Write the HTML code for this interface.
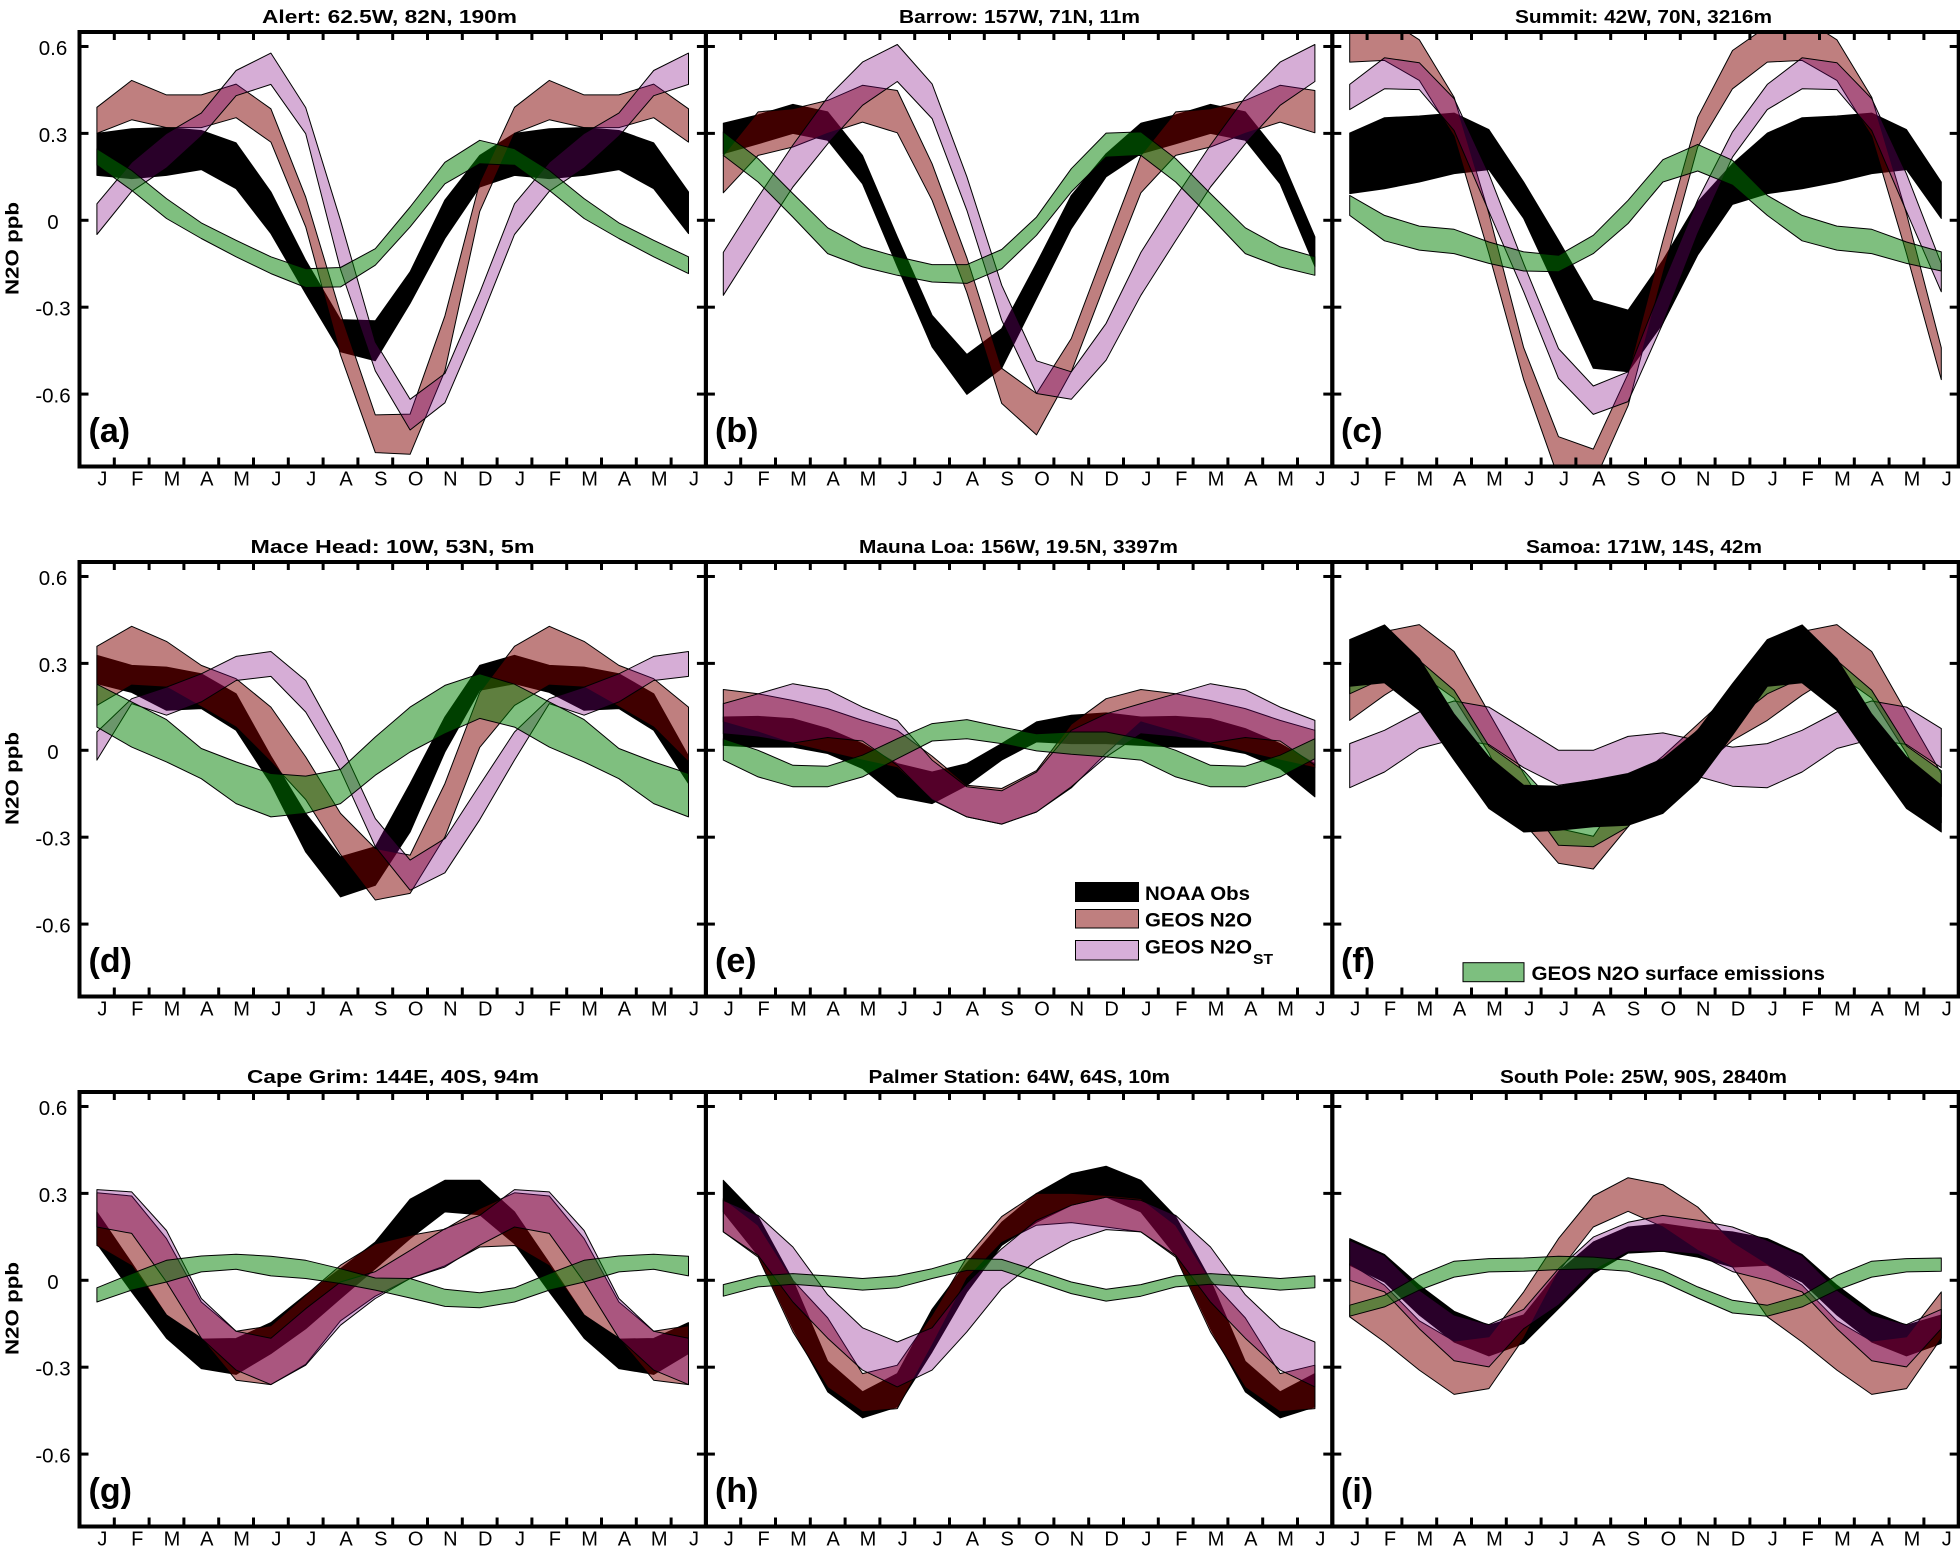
<!DOCTYPE html>
<html lang="en">
<head>
<meta charset="utf-8">
<title>N2O seasonal cycle at nine stations</title>
<style>
  html, body { margin: 0; padding: 0; background: #fff; }
  svg { display: block; font-family: "Liberation Sans", sans-serif; }
  .title { font-size: 18.5px; font-weight: bold; }
  .ylab { font-size: 18.5px; font-weight: bold; }
  .plab { font-size: 34px; font-weight: bold; }
  .leg { font-size: 19px; font-weight: bold; }
  .tick { font-size: 20.5px; text-anchor: middle; }
  .mon { font-size: 20px; text-anchor: middle; }
</style>
</head>
<body>
<svg id="chart" xmlns="http://www.w3.org/2000/svg" width="1960" height="1552" viewBox="0 0 1960 1552">
  <rect x="0" y="0" width="1960" height="1552" fill="#fff"/>
  <g id="panels"></g>

  <g>
    <text class="title" x="262" y="23" textLength="255" lengthAdjust="spacingAndGlyphs">Alert: 62.5W, 82N, 190m</text>
    <text class="title" x="899" y="23" textLength="241" lengthAdjust="spacingAndGlyphs">Barrow: 157W, 71N, 11m</text>
    <text class="title" x="1515" y="23" textLength="257" lengthAdjust="spacingAndGlyphs">Summit: 42W, 70N, 3216m</text>
    <text class="title" x="250.5" y="553" textLength="284" lengthAdjust="spacingAndGlyphs">Mace Head: 10W, 53N, 5m</text>
    <text class="title" x="859" y="553" textLength="319" lengthAdjust="spacingAndGlyphs">Mauna Loa: 156W, 19.5N, 3397m</text>
    <text class="title" x="1526" y="553" textLength="236" lengthAdjust="spacingAndGlyphs">Samoa: 171W, 14S, 42m</text>
    <text class="title" x="247" y="1083" textLength="292" lengthAdjust="spacingAndGlyphs">Cape Grim: 144E, 40S, 94m</text>
    <text class="title" x="868.5" y="1083" textLength="301.5" lengthAdjust="spacingAndGlyphs">Palmer Station: 64W, 64S, 10m</text>
    <text class="title" x="1500" y="1083" textLength="287" lengthAdjust="spacingAndGlyphs">South Pole: 25W, 90S, 2840m</text>
  </g>

  <g>
    <text class="ylab" transform="translate(18.5,295) rotate(-90)" textLength="93" lengthAdjust="spacingAndGlyphs">N2O ppb</text>
    <text class="ylab" transform="translate(18.5,825) rotate(-90)" textLength="93" lengthAdjust="spacingAndGlyphs">N2O ppb</text>
    <text class="ylab" transform="translate(18.5,1355) rotate(-90)" textLength="93" lengthAdjust="spacingAndGlyphs">N2O ppb</text>
  </g>

  <g>
    <text class="plab" x="88.5" y="442">(a)</text>
    <text class="plab" x="715" y="442">(b)</text>
    <text class="plab" x="1341" y="442">(c)</text>
    <text class="plab" x="88.5" y="972">(d)</text>
    <text class="plab" x="715" y="972">(e)</text>
    <text class="plab" x="1341" y="972">(f)</text>
    <text class="plab" x="88.5" y="1502">(g)</text>
    <text class="plab" x="715" y="1502">(h)</text>
    <text class="plab" x="1341" y="1502">(i)</text>
  </g>

  <g>
    <rect x="1075.5" y="882.5" width="63" height="19" fill="#000" stroke="#000"/>
    <text class="leg" x="1145" y="900" textLength="105" lengthAdjust="spacingAndGlyphs">NOAA Obs</text>
    <rect x="1075.5" y="909.5" width="63" height="18.5" fill="rgb(191,127,127)" stroke="#000"/>
    <text class="leg" x="1145" y="926.7" textLength="107" lengthAdjust="spacingAndGlyphs">GEOS N2O</text>
    <rect x="1075.5" y="940.5" width="63" height="19.5" fill="rgb(215,175,217)" stroke="#000"/>
    <text class="leg" x="1145" y="953.3" textLength="107" lengthAdjust="spacingAndGlyphs">GEOS N2O</text>
    <text x="1253" y="964" font-size="14.5" font-weight="bold" textLength="20" lengthAdjust="spacingAndGlyphs">ST</text>
    <rect x="1463" y="962.7" width="61" height="19" fill="rgb(125,191,127)" stroke="#000"/>
    <text class="leg" x="1531.5" y="980" textLength="293.5" lengthAdjust="spacingAndGlyphs">GEOS N2O surface emissions</text>
  </g>
</svg>

<script>
// Axis labels
const monthLabels = ['J','F','M','A','M','J','J','A','S','O','N','D','J','F','M','A','M','J'];
const yTickValues = [0.6, 0.3, 0, -0.3, -0.6];
const yTickLabels = ['0.6', '0.3', '0', '-0.3', '-0.6'];

// Values in ppb, Jan..Dec; the x axis runs 18 months, so Jan..Jun repeat.
// (a) Alert
const alertObsHi = [.30,.316,.32,.31,.267,.098,-.138,-.343,-.347,-.178,.07,.224];
const alertObsLo = [.155,.144,.155,.175,.109,-.046,-.253,-.454,-.485,-.287,-.063,.115];
const alertN2oHi = [.39,.483,.433,.433,.47,.385,.08,-.32,-.672,-.669,-.33,.13];
const alertN2oLo = [.30,.347,.32,.32,.354,.27,-.023,-.465,-.802,-.808,-.52,.03];
const alertStHi = [.057,.2,.3,.37,.517,.577,.389,0,-.42,-.618,-.529,-.25];
const alertStLo = [-.049,.1,.18,.29,.43,.469,.299,-.17,-.52,-.724,-.63,-.35];
const alertSfcHi = [.247,.172,.075,-.009,-.069,-.126,-.167,-.163,-.098,.046,.2,.276];
const alertSfcLo = [.19,.103,.006,-.063,-.126,-.184,-.232,-.23,-.155,-.023,.126,.195];
// (b) Barrow
const barrowObsHi = [.335,.364,.40,.374,.224,-.057,-.328,-.463,-.374,-.149,.086,.23];
const barrowObsLo = [.23,.264,.30,.276,.126,-.16,-.437,-.601,-.511,-.27,-.029,.15];
const barrowN2oHi = [.224,.374,.385,.414,.466,.448,.195,-.13,-.511,-.598,-.408,-.09];
const barrowN2oLo = [.095,.224,.253,.30,.339,.302,.069,-.25,-.632,-.741,-.523,-.21];
const barrowStHi = [-.111,.08,.26,.425,.546,.607,.471,.15,-.224,-.485,-.523,-.356];
const barrowStLo = [-.259,-.07,.115,.264,.397,.479,.351,.034,-.345,-.598,-.618,-.483];
const barrowSfcHi = [.305,.213,.092,-.026,-.092,-.126,-.153,-.153,-.101,.011,.178,.301];
const barrowSfcLo = [.224,.132,.011,-.115,-.161,-.19,-.213,-.218,-.167,-.052,.098,.218];
// (c) Summit
const summitObsHi = [.301,.354,.36,.37,.313,.132,-.069,-.276,-.31,-.138,.063,.195];
const summitObsLo = [.092,.109,.132,.161,.175,.006,-.253,-.511,-.523,-.356,-.12,.055];
const summitN2oHi = [.67,.70,.623,.425,.023,-.44,-.747,-.79,-.53,-.07,.356,.586];
const summitN2oLo = [.546,.552,.483,.29,-.115,-.55,-.89,-.91,-.64,-.184,.253,.454];
const summitStHi = [.469,.561,.544,.42,.16,-.15,-.443,-.572,-.523,-.218,.07,.305];
const summitStLo = [.382,.454,.451,.31,.03,-.247,-.546,-.67,-.626,-.356,-.046,.218];
const summitSfcHi = [.086,.017,-.02,-.031,-.075,-.109,-.121,-.052,.069,.209,.262,.207];
const summitSfcLo = [.017,-.071,-.103,-.115,-.149,-.175,-.178,-.115,-.011,.132,.17,.121];
// (d) Mace Head
const maceObsHi = [.328,.293,.287,.264,.195,-.02,-.218,-.368,-.333,-.115,.115,.293];
const maceObsLo = [.23,.2,.138,.144,.069,-.115,-.351,-.506,-.466,-.282,-.006,.207];
const maceN2oHi = [.359,.428,.376,.293,.247,.149,-.023,-.218,-.339,-.362,-.115,.20];
const maceN2oLo = [.155,.225,.218,.15,.08,-.04,-.17,-.36,-.517,-.494,-.299,.01];
const maceStHi = [.063,.178,.218,.264,.324,.341,.241,.023,-.236,-.379,-.305,-.12];
const maceStLo = [-.034,.161,.121,.167,.241,.255,.132,-.069,-.333,-.483,-.423,-.24];
const maceSfcHi = [.228,.167,.106,.006,-.04,-.08,-.089,-.066,.046,.149,.224,.264];
const maceSfcLo = [.08,.011,-.04,-.098,-.184,-.23,-.218,-.184,-.086,-.006,.057,.11];
// (e) Mauna Loa
const maunaObsHi = [.115,.117,.109,.075,.023,-.046,-.075,-.046,.023,.098,.121,.129];
const maunaObsLo = [.017,.011,.011,-.011,-.063,-.161,-.184,-.121,-.034,.029,.023,.023];
const maunaN2oHi = [.21,.195,.172,.144,.103,.069,-.02,-.121,-.132,-.07,.09,.178];
const maunaN2oLo = [.098,.063,.023,-.006,-.034,-.06,-.17,-.23,-.255,-.213,-.13,-.01];
const maunaStHi = [.161,.195,.23,.209,.149,.103,-.034,-.126,-.14,-.075,.069,.126];
const maunaStLo = [.057,.046,.025,.044,.032,-.052,-.172,-.23,-.255,-.213,-.126,-.023];
const maunaSfcHi = [.04,0,-.052,-.055,-.017,.04,.092,.106,.08,.057,.063,.063];
const maunaSfcLo = [-.034,-.092,-.126,-.126,-.092,-.029,.032,.04,.023,-.002,-.014,-.023];
// (f) Samoa
const samoaObsHi = [.382,.433,.316,.125,-.023,-.121,-.124,-.103,-.08,-.029,.069,.23];
const samoaObsLo = [.221,.233,.138,-.034,-.201,-.282,-.276,-.264,-.259,-.218,-.109,.052];
const samoaN2oHi = [.30,.41,.434,.341,.13,-.08,-.27,-.297,-.12,-.02,.09,.2];
const samoaN2oLo = [.103,.19,.265,.18,-.01,-.25,-.39,-.41,-.264,-.12,-.07,.034];
const samoaStHi = [.023,.069,.132,.17,.149,.075,0,0,.048,.06,.034,.011];
const samoaStLo = [-.129,-.075,.006,.038,.02,-.06,-.121,-.103,-.086,-.034,-.09,-.124];
const samoaSfcHi = [.30,.36,.31,.207,.015,-.07,-.2,-.22,-.15,-.05,.07,.2];
const samoaSfcLo = [.195,.25,.17,.05,-.05,-.16,-.328,-.333,-.264,-.12,0,.1];
// (g) Cape Grim
const capeObsHi = [.236,.06,-.12,-.203,-.201,-.146,-.05,.04,.132,.28,.345,.345];
const capeObsLo = [.126,-.04,-.2,-.305,-.325,-.253,-.167,-.063,.04,.144,.236,.226];
const capeN2oHi = [.302,.291,.144,-.075,-.176,-.157,-.052,.052,.126,.155,.176,.247];
const capeN2oLo = [.12,.05,-.12,-.2,-.345,-.36,-.29,-.14,-.055,.006,.05,.115];
const capeStHi = [.313,.305,.172,-.063,-.176,-.2,-.098,-.006,.03,.103,.178,.224];
const capeStLo = [.184,.162,-.006,-.2,-.31,-.36,-.293,-.155,-.063,.006,.046,.121];
const capeSfcHi = [-.026,.023,.069,.084,.09,.083,.069,.04,.008,.006,-.031,-.043];
const capeSfcLo = [-.075,-.034,-.006,.029,.038,.015,.006,-.011,-.034,-.061,-.09,-.095];
// (h) Palmer Station
const palmerObsHi = [.345,.22,0,-.28,-.385,-.322,-.1,.06,.2,.3,.368,.394];
const palmerObsLo = [.236,.086,-.167,-.385,-.475,-.437,-.247,-.04,.12,.2,.259,.287];
const palmerN2oHi = [.282,.19,0,-.13,-.322,-.293,-.12,.08,.22,.3,.3,.293];
const palmerN2oLo = [.167,.08,-.178,-.37,-.454,-.443,-.224,.006,.13,.19,.199,.184];
const palmerStHi = [.276,.224,.115,-.05,-.164,-.213,-.164,-.01,.109,.207,.259,.287];
const palmerStLo = [.167,.086,-.075,-.2,-.31,-.368,-.31,-.178,-.029,.069,.135,.175];
const palmerSfcHi = [-.015,.015,.023,.015,.006,.015,.04,.075,.072,.034,-.006,-.031];
const palmerSfcLo = [-.055,-.023,-.014,-.023,-.034,-.026,.006,.034,.034,-.006,-.046,-.072];
// (i) South Pole
const poleObsHi = [.144,.089,-.017,-.107,-.155,-.12,.03,.132,.184,.195,.178,.167];
const poleObsLo = [.052,-.006,-.12,-.213,-.261,-.218,-.098,.023,.094,.1,.08,.046];
const poleN2oHi = [.057,-.017,-.14,-.21,-.195,-.04,.144,.291,.354,.33,.253,.132];
const poleN2oLo = [-.126,-.213,-.31,-.394,-.374,-.2,.03,.184,.238,.184,.103,.046];
const poleStHi = [.138,.086,-.034,-.12,-.153,-.1,.04,.149,.2,.224,.207,.184];
const poleStLo = [0,-.04,-.167,-.278,-.299,-.167,-.086,.034,.098,.1,.09,.03];
const poleSfcHi = [-.086,-.052,.017,.066,.075,.077,.083,.08,.069,.034,-.023,-.069];
const poleSfcLo = [-.124,-.092,-.034,.011,.029,.031,.037,.04,.031,-.006,-.061,-.113];

// Panels in reading order (references to the arrays above only)
const panelList = [
  { id:'alert',  obs:[alertObsHi,alertObsLo],   n2o:[alertN2oHi,alertN2oLo],   st:[alertStHi,alertStLo],   sfc:[alertSfcHi,alertSfcLo],   obsOnTop:false },
  { id:'barrow', obs:[barrowObsHi,barrowObsLo], n2o:[barrowN2oHi,barrowN2oLo], st:[barrowStHi,barrowStLo], sfc:[barrowSfcHi,barrowSfcLo], obsOnTop:false },
  { id:'summit', obs:[summitObsHi,summitObsLo], n2o:[summitN2oHi,summitN2oLo], st:[summitStHi,summitStLo], sfc:[summitSfcHi,summitSfcLo], obsOnTop:false },
  { id:'mace-head', obs:[maceObsHi,maceObsLo],  n2o:[maceN2oHi,maceN2oLo],     st:[maceStHi,maceStLo],     sfc:[maceSfcHi,maceSfcLo],     obsOnTop:false },
  { id:'mauna-loa', obs:[maunaObsHi,maunaObsLo],n2o:[maunaN2oHi,maunaN2oLo],   st:[maunaStHi,maunaStLo],   sfc:[maunaSfcHi,maunaSfcLo],   obsOnTop:false },
  { id:'samoa',  obs:[samoaObsHi,samoaObsLo],   n2o:[samoaN2oHi,samoaN2oLo],   st:[samoaStHi,samoaStLo],   sfc:[samoaSfcHi,samoaSfcLo],   obsOnTop:true },
  { id:'cape-grim', obs:[capeObsHi,capeObsLo],  n2o:[capeN2oHi,capeN2oLo],     st:[capeStHi,capeStLo],     sfc:[capeSfcHi,capeSfcLo],     obsOnTop:false },
  { id:'palmer-station', obs:[palmerObsHi,palmerObsLo], n2o:[palmerN2oHi,palmerN2oLo], st:[palmerStHi,palmerStLo], sfc:[palmerSfcHi,palmerSfcLo], obsOnTop:false },
  { id:'south-pole', obs:[poleObsHi,poleObsLo], n2o:[poleN2oHi,poleN2oLo],     st:[poleStHi,poleStLo],     sfc:[poleSfcHi,poleSfcLo],     obsOnTop:false }
];

const SVGNS = 'http://www.w3.org/2000/svg';
const PANEL_W = 626.4, PANEL_L = 79.5, STEP = PANEL_W / 18;
const ROW_TOP = 32, ROW_GAP = 530, PANEL_H = 434.5;
const Y_MAX = 0.65, Y_MIN = -0.85;
const FILLS = { obs:'#000', n2o:'rgba(127,0,0,.5)', st:'rgba(128,0,128,.32)', sfc:'rgba(0,128,0,.5)' };

function panelLeft(col) { return PANEL_L + col * PANEL_W; }
function panelTop(row) { return ROW_TOP + row * ROW_GAP; }
function xAxis(col, i) { return panelLeft(col) + STEP * (i + 0.5); }
function yAxis(row, v) { return panelTop(row) + (Y_MAX - v) / (Y_MAX - Y_MIN) * PANEL_H; }

function make(tag, parent, attrs) {
  const el = document.createElementNS(SVGNS, tag);
  for (const k in attrs) el.setAttribute(k, attrs[k]);
  parent.appendChild(el);
  return el;
}

function bandPoints(pair, col, row) {
  const top = [], bottom = [];
  monthLabels.forEach(function (_, i) {
    const m = i % pair[0].length;
    top.push(xAxis(col, i).toFixed(1) + ',' + yAxis(row, pair[0][m]).toFixed(1));
    bottom.unshift(xAxis(col, i).toFixed(1) + ',' + yAxis(row, pair[1][m]).toFixed(1));
  });
  return top.concat(bottom).join(' ');
}

const root = document.getElementById('panels');

panelList.forEach(function (p, idx) {
  const col = idx % 3, row = Math.floor(idx / 3);
  const L = panelLeft(col), T = panelTop(row), B = T + PANEL_H, R = L + PANEL_W;

  const g = make('g', root, {});
  
  

  const clip = make('clipPath', g, { id: 'clip-' + p.id });
  make('rect', clip, { x: L, y: T, width: PANEL_W, height: PANEL_H });

  const bands = make('g', g, { 'clip-path': 'url(#clip-' + p.id + ')' });
  
  

  const order = p.obsOnTop ? ['n2o', 'st', 'sfc', 'obs'] : ['obs', 'n2o', 'st', 'sfc'];
  order.forEach(function (key) {
    const band = make('polygon', bands, {
      points: bandPoints(p[key], col, row),
      fill: FILLS[key],
      stroke: '#000',
      'stroke-width': 1,
      'stroke-linejoin': 'round'
    });
    
    
  });

  // y ticks on both sides of the frame
  yTickValues.forEach(function (v) {
    const y = yAxis(row, v);
    const left = make('line', g, { x1: L, x2: L + 9, y1: y, y2: y, stroke: '#000', 'stroke-width': 3 });
    
    
    const right = make('line', g, { x1: R - 9, x2: R, y1: y, y2: y, stroke: '#000', 'stroke-width': 3 });
    
    
  });

  // x ticks on month boundaries, top and bottom
  for (let k = 1; k < monthLabels.length; k++) {
    const x = L + STEP * k;
    const tb = make('line', g, { x1: x, x2: x, y1: B - 9, y2: B, stroke: '#000', 'stroke-width': 3 });
    
    
    const tt = make('line', g, { x1: x, x2: x, y1: T, y2: T + 8, stroke: '#000', 'stroke-width': 3 });
    
    
  }

  const frame = make('rect', g, { x: L, y: T, width: PANEL_W, height: PANEL_H, fill: 'none', stroke: '#000', 'stroke-width': 4 });
  
  

  // month labels
  monthLabels.forEach(function (label, i) {
    const t = make('text', g, { class: 'mon', x: (xAxis(col, i) + 5.5).toFixed(1), y: (B + 19).toFixed(1) });
    t.textContent = label;
    
    
  });

  // y tick labels, first column only
  if (col === 0) {
    yTickValues.forEach(function (v, j) {
      const t = make('text', g, { class: 'tick', x: 53, y: (yAxis(row, v) + 8.5).toFixed(1) });
      t.textContent = yTickLabels[j];
      
      
    });
  }
});
</script>
</body>
</html>
